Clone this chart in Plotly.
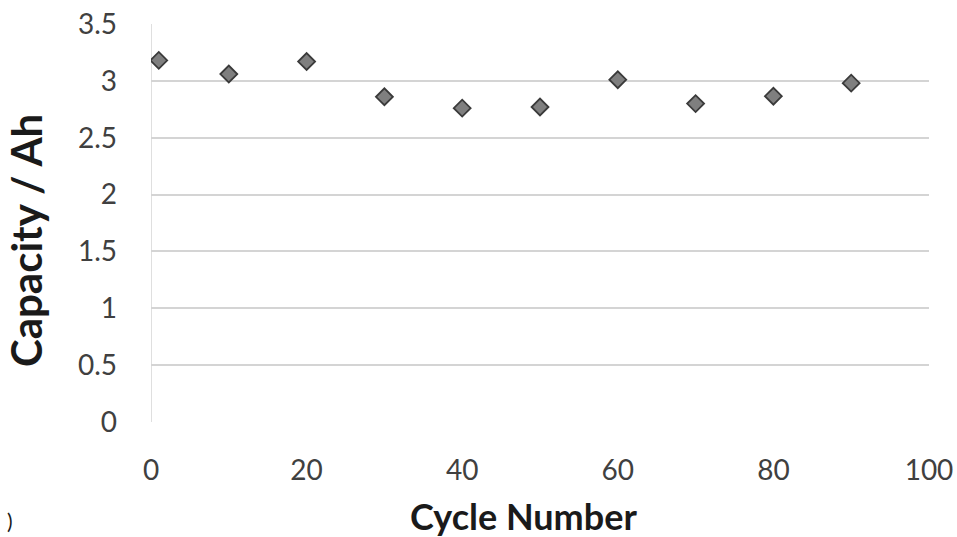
import plotly.graph_objects as go

cycles = [1, 10, 20, 30, 40, 50, 60, 70, 80, 90]
capacity = [3.18, 3.06, 3.17, 2.86, 2.76, 2.77, 3.01, 2.80, 2.865, 2.98]
x_ticks = [0, 20, 40, 60, 80, 100]
y_ticks = [0, 0.5, 1, 1.5, 2, 2.5, 3, 3.5]
x_title = "Cycle Number"
y_title = "Capacity / Ah"

fig = go.Figure()
fig.add_trace(go.Scatter(
    x=cycles, y=capacity, mode="markers",
    marker=dict(symbol="diamond", size=13, color="#7f7f7f",
                line=dict(color="#3a3a3a", width=1.8)),
    showlegend=False,
))

font_family = "Lato, 'Open Sans', sans-serif"
fig.update_layout(
    width=957, height=537,
    margin=dict(l=151, r=28, t=24, b=115, autoexpand=False),
    paper_bgcolor="white", plot_bgcolor="white",
    font=dict(family=font_family, color="#404040"),
)
fig.update_xaxes(
    range=[0, 100], tickvals=x_ticks, showgrid=False, zeroline=False,
    showline=False, ticks="", tickfont=dict(size=28, color="#404040"),
    ticklabelstandoff=29, automargin=False,
)
fig.update_yaxes(
    range=[0, 3.5], tickvals=y_ticks, showgrid=True, gridcolor="#d4d4d4", gridwidth=1.5,
    zeroline=False, showline=False, ticks="", automargin=False,
    tickfont=dict(size=28, color="#404040"), ticklabelstandoff=33,
)
fig.add_shape(type="line", xref="x", yref="paper", x0=0, x1=0, y0=0, y1=1,
              line=dict(color="#d4d4d4", width=1.5), layer="below")
fig.add_annotation(text="<b>" + x_title + "</b>", xref="paper", yref="paper",
                   x=0.4794, y=-0.237, xanchor="center", yanchor="middle",
                   showarrow=False, font=dict(size=36, color="#1a1a1a"))
fig.add_annotation(text="<b>" + y_title + "</b>", xref="paper", yref="paper",
                   x=-0.1607, y=0.457, xanchor="center", yanchor="middle",
                   textangle=-90, showarrow=False, font=dict(size=42, color="#1a1a1a"))
fig.add_annotation(text=")", xref="paper", yref="paper", x=-0.188, y=-0.212,
                   xanchor="left", yanchor="top", showarrow=False,
                   font=dict(size=21, color="#1a1a1a"))
fig.write_html("out.html", config={"displayModeBar": False},
               post_script="document.body.style.margin='0';")
